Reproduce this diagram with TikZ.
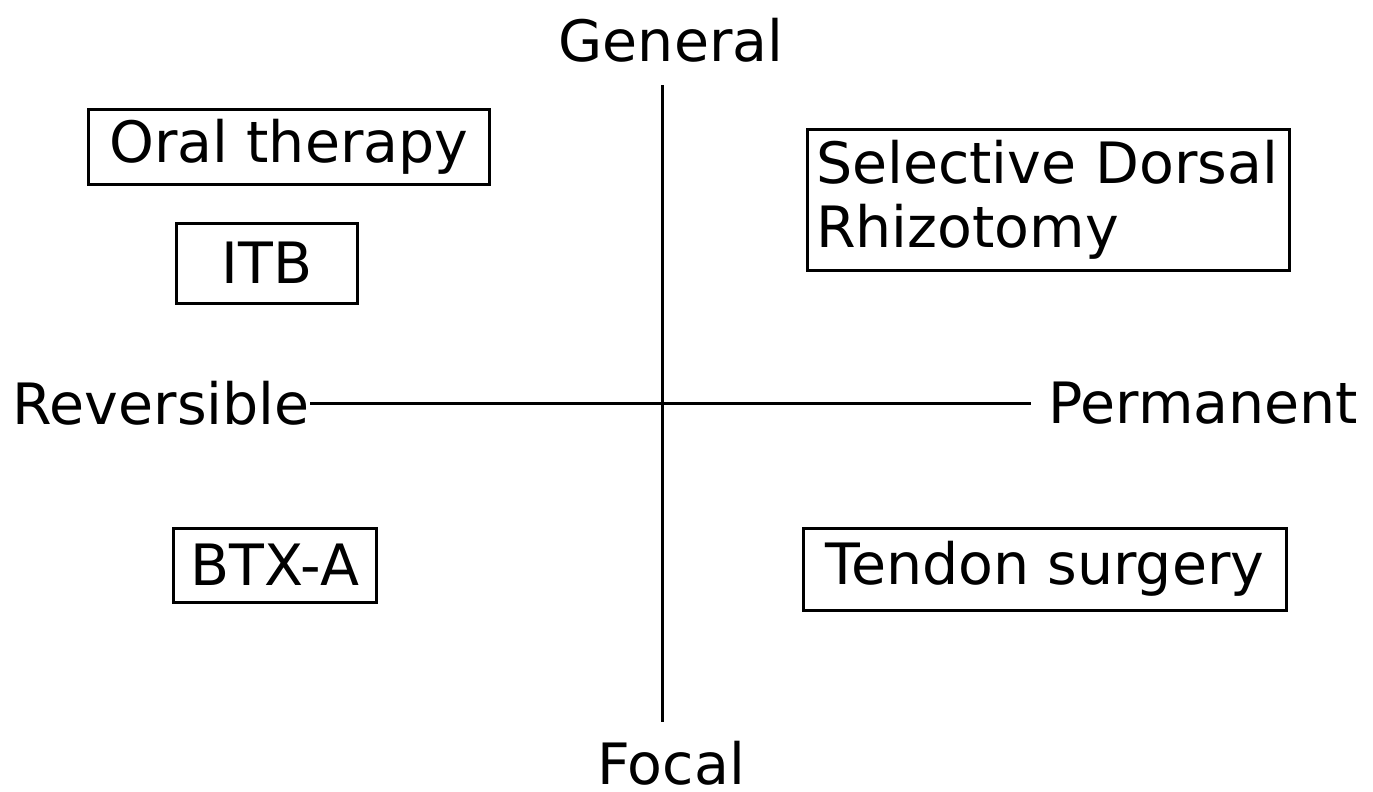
\documentclass[tikz,border=0pt]{standalone}
\usepackage{fontspec}
\setmainfont{DejaVu Sans}
\usetikzlibrary{positioning}
\tikzset{
    box/.style={draw=black, line width=3pt, fill=white, inner sep=0pt, align=center, font=\fontsize{57}{64}\selectfont},
    axislabel/.style={inner sep=0pt, font=\fontsize{57}{64}\selectfont},
    axis/.style={line width=3pt, black}
}
\begin{document}
\begin{tikzpicture}[x=1pt, y=-1pt]
        \useasboundingbox (0,0) rectangle (1373,792);
        % axis labels
        \node [axislabel] (general) at (671,40) {General};
        \node [axislabel] (focal) at (671,763) {Focal};
        \node [axislabel, anchor=east] (reversible) at (310,403) {Reversible};
        \node [axislabel, anchor=west] (permanent) at (1048,403) {Permanent};
        \coordinate (vtop) at (662,85);
        \coordinate (vbot) at (662,722);
        \coordinate (hright) at (1031,403);
        \draw [axis] (vtop) -- (vbot);
        \draw [axis] (reversible.east) -- (hright);
        % treatments
        \node [box, minimum width=401, minimum height=75] (oral) at (289,147) {Oral therapy};
        \node [box, minimum width=181, minimum height=80] (itb) at (267,263) {ITB};
        \node [box, minimum width=203, minimum height=74] (btxa) at (275,565) {BTX-A};
        \node [box, text width=464, inner xsep=9pt, align=left, minimum height=141] (sdr) at (1048,200) {Selective Dorsal\\Rhizotomy};
        \node [box, minimum width=483, minimum height=82] (tendon) at (1045,569) {Tendon surgery};
    \end{tikzpicture}
\end{document}
